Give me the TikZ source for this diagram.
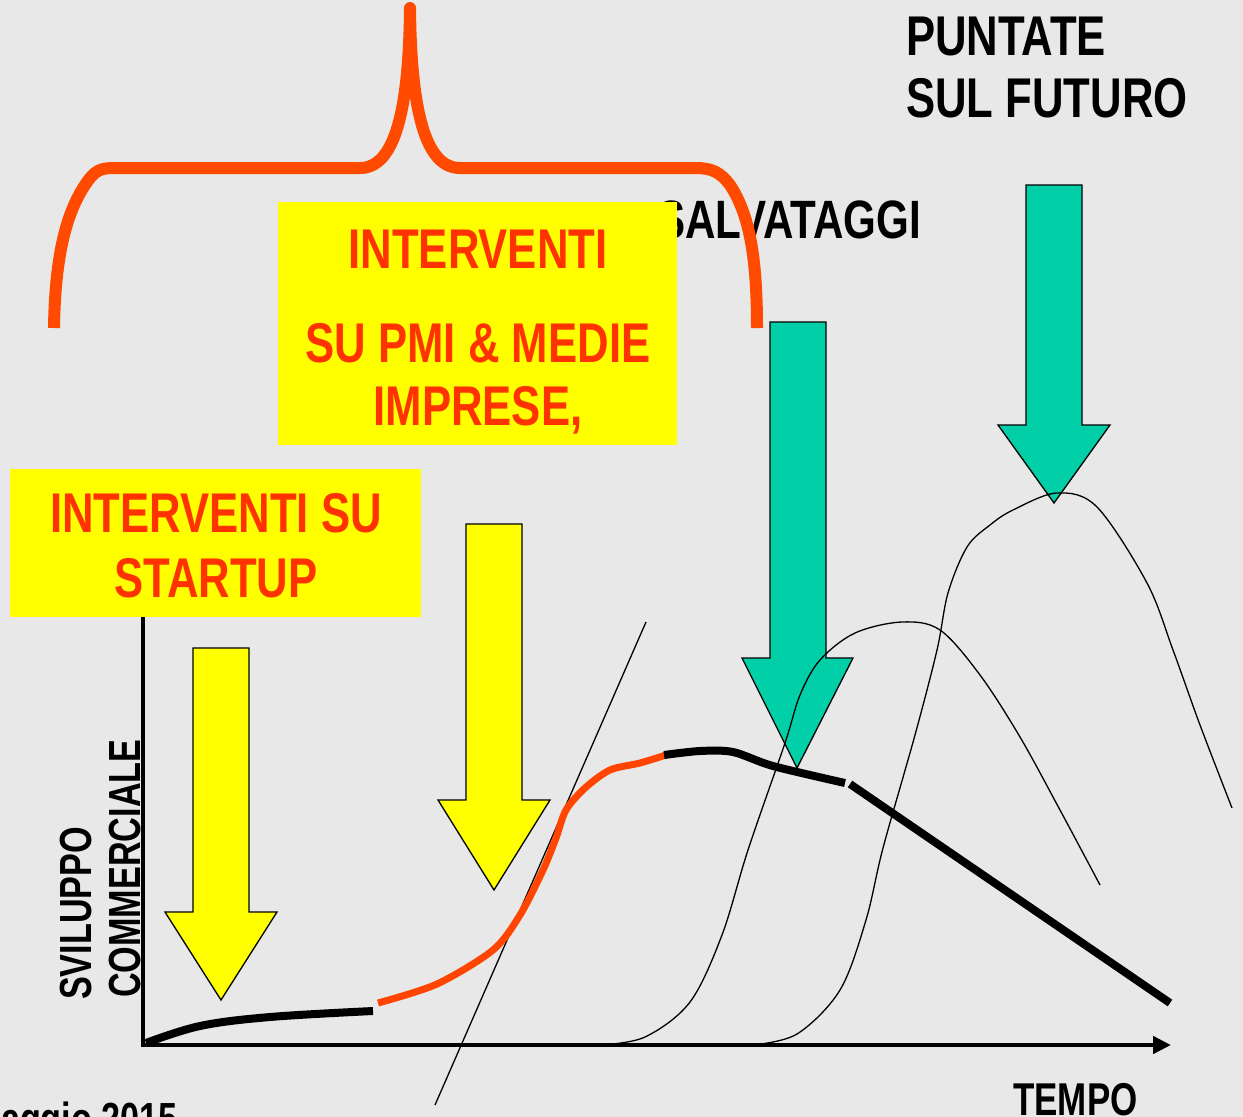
\documentclass[tikz,border=0pt]{standalone}
\usepackage{fontspec}
\newfontfamily\nar[FakeStretch=0.78]{Liberation Sans}
\newfontfamily\narb[FakeStretch=0.76]{Liberation Sans}
\usetikzlibrary{arrows.meta}
\definecolor{bgc}{HTML}{E8E8E8}
\definecolor{bracec}{HTML}{FF4A00}
\definecolor{otext}{HTML}{FF3300}
\definecolor{ocurve}{HTML}{FF4500}
\definecolor{tealc}{RGB}{0,207,168}
\definecolor{yel}{HTML}{FFFF00}
\begin{document}
\begin{tikzpicture}[x=1pt,y=-1pt,
  lbl/.style={inner sep=0pt, anchor=base, font=\nar\bfseries\fontsize{56}{60}\selectfont},
  olbl/.style={lbl, text=otext},
  slbl/.style={inner sep=0pt, font=\narb\bfseries\fontsize{45}{50}\selectfont},
  ybox/.style={fill=yel, draw=none, inner sep=0pt},
  yarr/.style={fill=yel, draw=black, line width=1.3pt, line join=miter},
  tarr/.style={fill=tealc, draw=black, line width=1.3pt, line join=miter},
  thin/.style={draw=black, line width=1.3pt},
  thick/.style={draw=black, line width=8pt},
  ornc/.style={draw=ocurve, line width=7pt},
  bracesty/.style={draw=bracec, line width=12pt, line join=round}]

% background and page size
\fill[bgc] (0,0) rectangle (1243,1117);
\useasboundingbox (0,0) rectangle (1243,1117);

% SALVATAGGI (partly hidden by the box)
\node[lbl, anchor=base east, font=\nar\bfseries\fontsize{54}{58}\selectfont] (salv) at (921,238) {SALVATAGGI};

% yellow boxes
\node[ybox, minimum width=399pt, minimum height=243pt] (boxA) at (477.5,323.5) {};
\node[olbl] (tA1) at (478,268) {INTERVENTI};
\node[olbl] (tA2) at (478,362) {SU PMI \& MEDIE};
\node[olbl] (tA3) at (478,425) {IMPRESE,};

\node[ybox, minimum width=411pt, minimum height=148pt] (boxB) at (215.5,543) {};
\node[olbl] (tB1) at (216,532) {INTERVENTI SU};
\node[olbl] (tB2) at (216,597) {STARTUP};

% brace
\draw[bracesty] (54,328) .. controls (55,260) and (65,215) .. (85,185)
  .. controls (95,170) and (100,168) .. (115,168) -- (360,168)
  .. controls (395,168) and (409,110) .. (410,8)
  .. controls (411,110) and (425,168) .. (460,168) -- (695,168)
  .. controls (712,168) and (720,172) .. (730,185)
  .. controls (750,215) and (757,260) .. (757,328);

% top right text
\node[lbl, anchor=base west] (p1) at (906,55) {PUNTATE};
\node[lbl, anchor=base west] (p2) at (906,117) {SUL FUTURO};

% axes
\coordinate (O) at (143,1045);
\coordinate (ytop) at (143,617);
\coordinate (xend) at (1171,1045);
\draw[line width=4.5pt] (ytop) -- (143,1047);
\draw[line width=4.5pt, -{Triangle[length=18pt,width=17pt]}] (141,1045) -- (xend);

% yellow arrows
\draw[yarr] (193,648) -- (249,648) -- (249,912) -- (277,912) -- (221,1000) -- (165,912) -- (193,912) -- cycle;
\draw[yarr] (466,524) -- (522,524) -- (522,800) -- (550,800) -- (494,890) -- (438,800) -- (466,800) -- cycle;

% teal arrows
\draw[tarr] (770,322) -- (826,322) -- (826,658) -- (853,658) -- (797,768) -- (742,658) -- (770,658) -- cycle;
\draw[tarr] (1026,185) -- (1082,185) -- (1082,425) -- (1110,425) -- (1054,503) -- (998,425) -- (1026,425) -- cycle;

% thin curves
\draw[thin] (435,1105) -- (646,622);
\draw[thin] plot[smooth, tension=0.55] coordinates {(600,1045) (645,1037) (690,1002) (722,935) (748,850) (785,743) (800,695) (820,660) (855,633) (902,622) (940,630) (980,675) (1020,737) (1060,810) (1100,885)};
\draw[thin] plot[smooth, tension=0.55] coordinates {(752,1045) (797,1034) (840,990) (866,920) (883,848) (915,735) (937,650) (948,593) (967,547) (990,525) (1013,510) (1057,493) (1097,507) (1147,583) (1173,650) (1200,725) (1232,808)};

% development curve
\draw[thick] plot[smooth, tension=0.6] coordinates {(146,1043) (200,1026) (270,1017) (373,1011)};
\draw[ornc] plot[smooth, tension=0.5] coordinates {(378,1003) (437,984) (493,950) (520,915) (543,870) (556,838) (566,810) (585,788) (610,770) (640,763) (666,755)};
\draw[thick] plot[smooth, tension=0.5] coordinates {(664,755) (700,751) (733,752) (773,766) (845,783)};
\draw[thick] (850,784) -- (1170,1003);

% axis labels
\node[slbl, anchor=base west, rotate=90] (yl1) at (91,1000) {SVILUPPO};
\node[slbl, anchor=base west, rotate=90] (yl2) at (140,998) {COMMERCIALE};
\node[slbl, anchor=base west, font=\narb\bfseries\fontsize{46}{50}\selectfont] (xl) at (1013,1115) {TEMPO};
\node[slbl, anchor=base east] (date) at (178,1134) {aggio 2015};
\end{tikzpicture}
\end{document}
